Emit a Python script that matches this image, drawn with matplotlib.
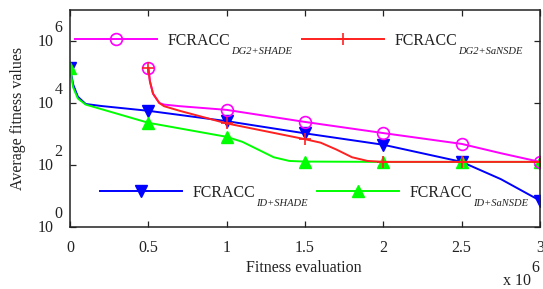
import numpy as np
import matplotlib
matplotlib.use('Agg')
import matplotlib.pyplot as plt
from matplotlib.lines import Line2D
from matplotlib.transforms import IdentityTransform

plt.rcParams['font.family'] = 'Liberation Serif'

# data (x in units of 1e6 evaluations)
mark_x = [0, 0.5, 1.0, 1.5, 2.0, 2.5, 3.0]

x_dg2_shade = [0.5, 0.51, 0.53, 0.57, 0.6, 0.7, 1.0, 1.5, 2.0, 2.5, 2.75, 3.0]
y_dg2_shade = [1.35e5, 5.0e4, 2.0e4, 1.0e4, 8.9e3, 7.9e3, 6.0e3, 2.45e3, 1.07e3, 479, 240, 126]

x_dg2_sansde = [0.5, 0.51, 0.53, 0.57, 0.6, 0.7, 1.0, 1.5, 1.6, 1.7, 1.8, 1.9, 2.0, 2.5, 3.0]
y_dg2_sansde = [1.35e5, 5.0e4, 2.0e4, 1.0e4, 7.9e3, 5.6e3, 2.2e3, 680, 525, 316, 178, 135, 126, 126, 126]

x_id_shade = [0, 0.02, 0.05, 0.1, 0.2, 0.5, 1.0, 1.5, 2.0, 2.5, 2.75, 3.0]
y_id_shade = [1.35e5, 4.0e4, 1.6e4, 9.3e3, 8.0e3, 5.6e3, 2.6e3, 1.05e3, 450, 126, 35, 7.1]

x_id_sansde = [0, 0.02, 0.05, 0.1, 0.5, 1.0, 1.1, 1.2, 1.3, 1.4, 1.5, 2.0, 2.5, 3.0]
y_id_sansde = [1.35e5, 3.2e4, 1.4e4, 8.9e3, 2.3e3, 810, 560, 316, 178, 135, 129, 126, 126, 126]

name = 'FCRACC'
subs = ['ID+SHADE', 'ID+SaNSDE', 'DG2+SHADE', 'DG2+SaNSDE']

xticks = [0, 0.5, 1, 1.5, 2, 2.5, 3]
xticklabels = ['0', '0.5', '1', '1.5', '2', '2.5', '3']
yexp = [0, 2, 4, 6]

txt = '#222222'
fs = 11.5
lfs = 11.4
sfs = 7.6

fig = plt.figure(figsize=(5.43, 2.89), dpi=100)
ax = fig.add_axes([70/543, 1-227/289, 470/543, 217/289])

def idx(xs):
    return [i for i, v in enumerate(xs) if v in mark_x]

series = [
    (x_id_shade, y_id_shade, dict(color='#0000ff', marker='v', mfc='#0000ff', mec='#0000ff', ms=9)),
    (x_id_sansde, y_id_sansde, dict(color='#00ff00', marker='^', mfc='#00ff00', mec='#00ff00', ms=9)),
    (x_dg2_shade, y_dg2_shade, dict(color='#ff00ff', marker='o', mfc='none', mec='#ff00ff', ms=8.5, mew=1.2)),
    (x_dg2_sansde, y_dg2_sansde, dict(color='#ff2020', marker='+', mec='#ff2020', ms=9, mew=1.2)),
]
for xs, ys, st in series:
    ax.plot(xs, ys, lw=1.4, markevery=idx(xs), **st)

ax.set_yscale('log')
ax.set_xlim(0, 3)
ax.set_ylim(1, 1e7)
ax.set_xticks(xticks)
ax.set_xticklabels(xticklabels, fontsize=fs, color=txt)
ax.set_yticks([10.0**e for e in yexp])
ax.set_yticklabels([])
ax.yaxis.set_minor_locator(matplotlib.ticker.NullLocator())
ax.tick_params(direction='in', top=True, right=True, length=4, width=0.9, colors='#222222', pad=9)
ax.tick_params(axis='y', labelleft=False)
for s in ax.spines.values():
    s.set_linewidth(1.1)
    s.set_color('#222222')

# y tick labels: 10 with a raised exponent
for e in yexp:
    ax.annotate('10', xy=(0, 10.0**e), xycoords=('axes fraction', 'data'),
                xytext=(-12, -0.7), textcoords='offset points', ha='right', va='center',
                fontsize=fs, color=txt)
    ax.annotate(str(e), xy=(0, 10.0**e), xycoords=('axes fraction', 'data'),
                xytext=(-11, 9.2), textcoords='offset points', ha='left', va='center',
                fontsize=fs, color=txt)

fig.text(304/543, 1-268/289, 'Fitness evaluation', ha='center', va='center', fontsize=fs, color=txt)
fig.text(18/543, 1-118/289, 'Average fitness values', ha='center', va='center', rotation=90,
         fontsize=fs, color=txt)
fig.text(503/543, 1-281/289, 'x 10', ha='left', va='center', fontsize=fs, color=txt)
fig.text(535/543, 1-268/289, '6', ha='center', va='center', fontsize=fs, color=txt)

# legend entries, one per slot (series index, left px, line y px)
slots = [(2, 75, 41), (3, 302, 41), (0, 100, 193), (1, 317, 193)]
legs = []
for k, px, py in slots:
    h = Line2D([], [], lw=1.4, **series[k][2])
    leg = fig.legend([h], [name], loc='center left', bbox_to_anchor=(px/543, 1-py/289),
                     bbox_transform=fig.transFigure, frameon=False, borderpad=0, borderaxespad=0,
                     handlelength=5.2, handletextpad=0.63, fontsize=lfs, labelcolor=txt)
    legs.append((leg, subs[k]))

fig.canvas.draw()
r = fig.canvas.get_renderer()
for leg, sub in legs:
    bb = leg.get_texts()[0].get_window_extent(r)
    fig.text(bb.x1 + 1, bb.y0 - 6.5, sub, transform=IdentityTransform(), ha='left', va='bottom',
             fontsize=sfs, style='italic', color=txt)

fig.savefig('out.png', dpi=100)
